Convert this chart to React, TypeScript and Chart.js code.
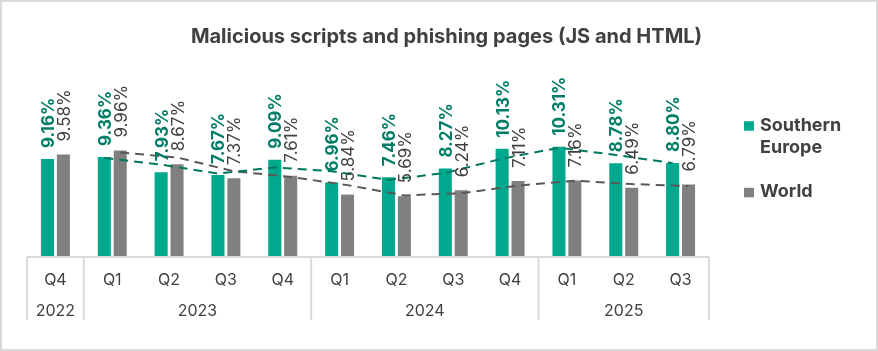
import React, { useEffect, useRef } from "react";
import { Chart, registerables } from "chart.js";

Chart.register(...registerables);

// ---- data ----
const titleText = "Malicious scripts and phishing pages (JS and HTML)";
const quarterLabels = ["Q4", "Q1", "Q2", "Q3", "Q4", "Q1", "Q2", "Q3", "Q4", "Q1", "Q2", "Q3"];
const yearLabels = ["2022", "2023", "2023", "2023", "2023", "2024", "2024", "2024", "2024", "2025", "2025", "2025"];
const seriesNames = ["Southern Europe", "World"];
const southernEurope = [9.16, 9.36, 7.93, 7.67, 9.09, 6.96, 7.46, 8.27, 10.13, 10.31, 8.78, 8.8];
const world = [9.58, 9.96, 8.67, 7.37, 7.61, 5.84, 5.69, 6.24, 7.11, 7.16, 6.49, 6.79];
// two-period moving-average trend lines, as shown in the reference
const southernEuropeTrend = [null, 9.26, 8.645, 7.8, 8.38, 8.025, 7.21, 7.865, 9.2, 10.22, 9.545, 8.79];
const worldTrend = [null, 9.77, 9.315, 8.02, 7.49, 6.725, 5.765, 5.965, 6.675, 7.135, 6.825, 6.64];

// ---- styles ----
const FONT = "Inter, 'Noto Sans', sans-serif";
const GREEN = "#00A88E";
const GREEN_DARK = "#007D67";
const GREEN_TREND = "#00775F";
const GRAY = "#808080";
const GRAY_TREND = "#595959";
const TEXT = "#404040";
const RULE = "#D9D9D9";

const CAT_PCT = 0.56;
const BAR_PCT = 0.82;

// align each trend line's points with the bars of the series it belongs to (as Excel does)
const trendAlignPlugin = {
  id: "trendAlign",
  afterDatasetsUpdate(chart: any) {
    chart.data.datasets.forEach((ds: any, di: number) => {
      if (ds.type !== "line" || ds.barSeries === undefined) return;
      const barMeta = chart.getDatasetMeta(ds.barSeries);
      const lineMeta = chart.getDatasetMeta(di);
      lineMeta.data.forEach((pt: any, i: number) => {
        const bar = barMeta.data[i];
        if (bar) pt.x = bar.x;
      });
    });
  },
};

const titlePlugin = {
  id: "customTitle",
  afterDraw(chart: any) {
    const ctx = chart.ctx;
    ctx.save();
    ctx.font = `bold 20px ${FONT}`;
    ctx.fillStyle = TEXT;
    ctx.textAlign = "center";
    ctx.textBaseline = "alphabetic";
    ctx.fillText(titleText, 446.5, 43);
    ctx.restore();
  },
};

const axisPlugin = {
  id: "groupedAxis",
  afterDatasetsDraw(chart: any) {
    const ctx = chart.ctx;
    const xs = chart.scales.x;
    const n = quarterLabels.length;
    const half = (xs.getPixelForValue(1) - xs.getPixelForValue(0)) / 2;
    const bottom = chart.chartArea.bottom;
    ctx.save();
    ctx.strokeStyle = RULE;
    ctx.lineWidth = 2;
    ctx.beginPath();
    ctx.moveTo(xs.getPixelForValue(0) - half, bottom);
    ctx.lineTo(xs.getPixelForValue(n - 1) + half, bottom);
    ctx.stroke();

    ctx.fillStyle = TEXT;
    ctx.textAlign = "center";
    ctx.textBaseline = "alphabetic";
    ctx.font = `16px ${FONT}`;
    for (let i = 0; i < n; i++) {
      ctx.fillText(quarterLabels[i], xs.getPixelForValue(i), bottom + 27.5);
    }
    let start = 0;
    const edges: number[] = [xs.getPixelForValue(0) - half];
    for (let i = 1; i <= n; i++) {
      if (i === n || yearLabels[i] !== yearLabels[start]) {
        const left = xs.getPixelForValue(start) - half;
        const right = xs.getPixelForValue(i - 1) + half;
        ctx.fillText(yearLabels[start], (left + right) / 2, bottom + 59);
        edges.push(right);
        start = i;
      }
    }
    ctx.beginPath();
    for (const e of edges) {
      ctx.moveTo(e, bottom);
      ctx.lineTo(e, bottom + 63);
    }
    ctx.stroke();
    ctx.restore();
  },
};

const labelPlugin = {
  id: "barLabels",
  afterDatasetsDraw(chart: any) {
    const ctx = chart.ctx;
    const cfg = [
      { font: `bold 17px ${FONT}`, color: GREEN_DARK, gap: 11 },
      { font: `17px ${FONT}`, color: TEXT, gap: 13 },
    ];
    [0, 1].forEach((di) => {
      const meta = chart.getDatasetMeta(di);
      const data = chart.data.datasets[di].data as number[];
      meta.data.forEach((bar: any, j: number) => {
        ctx.save();
        ctx.translate(bar.x, bar.y - cfg[di].gap);
        ctx.rotate(-Math.PI / 2);
        ctx.font = cfg[di].font;
        ctx.fillStyle = cfg[di].color;
        ctx.textAlign = "left";
        ctx.textBaseline = "alphabetic";
        ctx.fillText(`${data[j].toFixed(2)}%`, 0, 6.5);
        ctx.restore();
      });
    });
  },
};

const legendPlugin = {
  id: "sideLegend",
  afterDraw(chart: any) {
    const ctx = chart.ctx;
    const x0 = chart.chartArea.right + 35;
    const textX = x0 + 16;
    const maxW = 90;
    const lineH = 22.6;
    let baseY = 130.7;
    ctx.save();
    ctx.font = `bold 18px ${FONT}`;
    ctx.textAlign = "left";
    ctx.textBaseline = "alphabetic";
    [0, 1].forEach((di) => {
      const ds = chart.data.datasets[di];
      const words = String(ds.label).split(" ");
      const lines: string[] = [];
      let cur = "";
      for (const w of words) {
        const t = cur ? cur + " " + w : w;
        if (cur && ctx.measureText(t).width > maxW) {
          lines.push(cur);
          cur = w;
        } else cur = t;
      }
      if (cur) lines.push(cur);
      ctx.fillStyle = ds.backgroundColor;
      ctx.fillRect(x0, baseY - 9.5, 10, 9.5);
      ctx.fillStyle = TEXT;
      lines.forEach((l, k) => ctx.fillText(l, textX, baseY + k * lineH));
      baseY += (lines.length - 1) * lineH + 44;
    });
    ctx.restore();
  },
};

export default function App() {
  const ref = useRef<HTMLCanvasElement>(null);
  useEffect(() => {
    document.body.style.margin = "0";
    const canvas = ref.current!;
    const lineBase = {
      type: "line",
      xAxisID: "x",
      yAxisID: "y",
      grouped: false,
      borderWidth: 2,
      borderDash: [9, 6],
      pointRadius: 0,
      fill: false,
      tension: 0,
      order: 0,
    };
    const chart = new Chart(canvas, {
      type: "bar",
      data: {
        labels: quarterLabels,
        datasets: [
          {
            type: "bar",
            label: seriesNames[0],
            data: southernEurope,
            backgroundColor: GREEN,
            categoryPercentage: CAT_PCT,
            barPercentage: BAR_PCT,
            xAxisID: "x",
            yAxisID: "y",
            order: 2,
          },
          {
            type: "bar",
            label: seriesNames[1],
            data: world,
            backgroundColor: GRAY,
            categoryPercentage: CAT_PCT,
            barPercentage: BAR_PCT,
            xAxisID: "x",
            yAxisID: "y",
            order: 2,
          },
          {
            ...lineBase,
            label: seriesNames[0] + " trend",
            barSeries: 0,
            data: southernEuropeTrend,
            borderColor: GREEN_TREND,
          },
          {
            ...lineBase,
            label: seriesNames[1] + " trend",
            barSeries: 1,
            data: worldTrend,
            borderColor: GRAY_TREND,
          },
        ] as any,
      },
      options: {
        responsive: false,
        animation: false,
        events: [],
        layout: { padding: { left: 27, right: 169, top: 74, bottom: 94 } },
        scales: {
          x: { display: false, offset: true },
          y: { display: false, min: 0, max: 17.12 },
        },
        plugins: {
          legend: { display: false },
          tooltip: { enabled: false },
          title: { display: false },
        },
      },
      plugins: [trendAlignPlugin, titlePlugin, axisPlugin, labelPlugin, legendPlugin],
    });
    return () => chart.destroy();
  }, []);

  return (
    <div style={{ position: "relative", width: 878, height: 351, background: "#fff" }}>
      <canvas ref={ref} width={878} height={351} style={{ position: "absolute", left: 0, top: 0, width: 878, height: 351 }} />
      <div
        style={{
          position: "absolute",
          inset: 0,
          border: `2px solid ${RULE}`,
          boxSizing: "border-box",
          pointerEvents: "none",
        }}
      />
    </div>
  );
}
